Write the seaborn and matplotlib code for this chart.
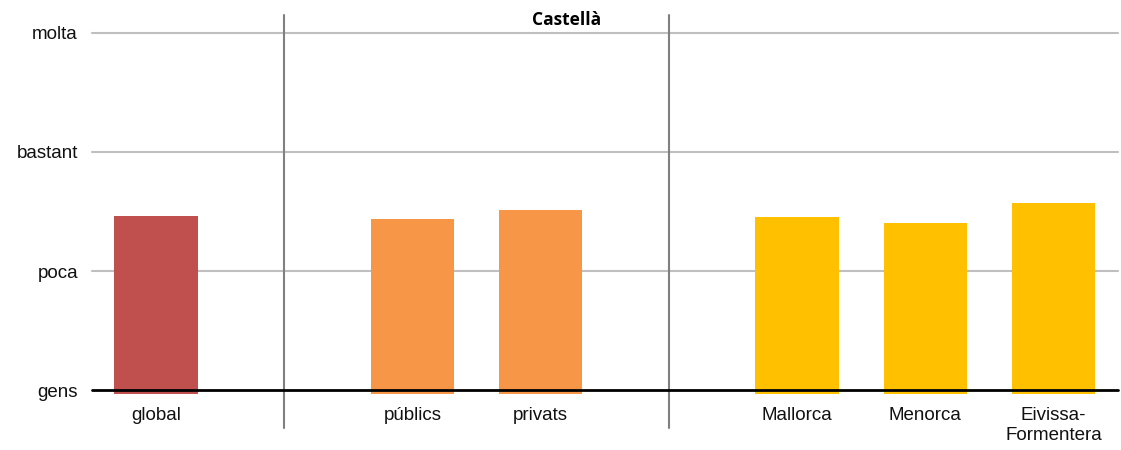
import matplotlib

matplotlib.use("Agg")

import matplotlib.pyplot as plt
import pandas as pd
import seaborn as sns

CATEGORIES = ["global", "gap1", "públics", "privats", "gap2", "Mallorca", "Menorca", "Eivissa-\nFormentera"]
VALUES = [1.46, 0.0, 1.44, 1.51, 0.0, 1.45, 1.40, 1.57]
COLORS = ["#C0504D", "#FFFFFF", "#F79646", "#F79646", "#FFFFFF", "#FFC000", "#FFC000", "#FFC000"]
Y_LEVELS = [0, 1, 2, 3]
Y_LABELS = ["gens", "poca", "bastant", "molta"]
SEPARATORS = [1, 4]
TITLE = "Castellà"


def main() -> None:
    sns.set_theme(style="white")
    plt.rcParams["font.family"] = ["Liberation Sans", "DejaVu Sans"]

    df = pd.DataFrame({"cat": CATEGORIES, "value": VALUES})

    fig = plt.figure(figsize=(11.21, 4.5), dpi=100)
    ax = fig.add_axes([0.082, 0.1333, 0.915, 0.7934])

    sns.barplot(data=df, x="cat", y="value", hue="cat", palette=COLORS,
                legend=False, width=0.65, saturation=1, linewidth=0,
                ax=ax, zorder=3)
    # bars reach a touch below the baseline, as in the original
    for patch, v in zip(ax.patches, VALUES):
        if v == 0:
            patch.set_visible(False)
            continue
        patch.set_y(-0.03)
        patch.set_height(v + 0.03)
        patch.set_clip_on(False)

    ax.set_xlim(-0.5, 7.5)
    ax.set_ylim(0, 3)
    ax.set_yticks(Y_LEVELS)
    ax.set_yticklabels(Y_LABELS, fontsize=13.5, color="#111111")
    ax.set_xticks(range(len(CATEGORIES)))
    ax.set_xticklabels(["" if c.startswith("gap") else c for c in CATEGORIES],
                       fontsize=13.5, color="#111111", linespacing=1.25)
    ax.tick_params(axis="y", length=0, pad=10)
    ax.tick_params(axis="x", length=0, pad=12)
    ax.set_xlabel("")
    ax.set_ylabel("")

    for y in Y_LEVELS[1:]:
        ax.axhline(y, color="#BFBFBF", lw=1.5, zorder=1, clip_on=False)
    ax.axhline(0, color="black", lw=2, zorder=4, clip_on=False)

    for x in SEPARATORS:
        ax.axvline(x, ymin=-0.106, ymax=1.05, color="#808080", lw=1.5,
                   zorder=2, clip_on=False)

    for side in ["top", "right", "left", "bottom"]:
        ax.spines[side].set_visible(False)

    fig.text(567 / 1121, 1 - 20 / 450, TITLE, ha="center", va="center",
             fontsize=12.5, fontweight="bold", color="black",
             family=["Open Sans", "DejaVu Sans"])

    fig.savefig("out.png", dpi=100)
    plt.close(fig)


if __name__ == "__main__":
    main()
